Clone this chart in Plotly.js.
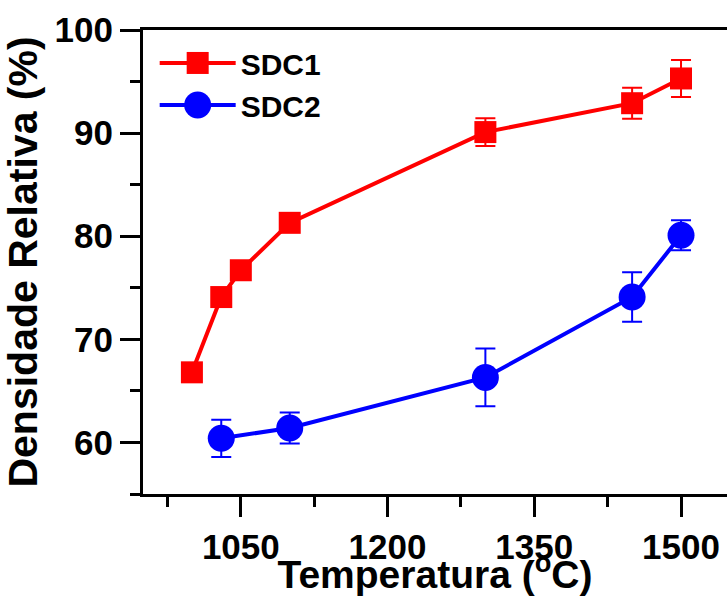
<!DOCTYPE html>
<html>
<head>
<meta charset="utf-8">
<script src="https://cdn.plot.ly/plotly-3.0.1.min.js"></script>
<style>
html,body{margin:0;padding:0;background:#fff;overflow:hidden;}
#chart{width:727px;height:596px;}
</style>
</head>
<body>
<div id="chart"></div>
<script>
// Data
const tempSDC1 = [1000, 1030, 1050, 1100, 1300, 1450, 1500];
const densSDC1 = [66.8, 74.1, 76.7, 81.3, 90.1, 92.9, 95.3];
const errSDC1  = [0.5, 0.5, 0.5, 0.5, 1.35, 1.5, 1.8];

const tempSDC2 = [1030, 1100, 1300, 1450, 1500];
const densSDC2 = [60.4, 61.4, 66.3, 74.1, 80.1];
const errSDC2  = [1.8, 1.5, 2.8, 2.4, 1.45];

const xTickVals = [1050, 1200, 1350, 1500];
const yTickVals = [60, 70, 80, 90, 100];

const FONT = 'Liberation Sans, Arial, sans-serif';
const RED = '#ff0000', BLUE = '#0000ff';

const traces = [
  {
    x: tempSDC1, y: densSDC1, name: 'SDC1', type: 'scatter', mode: 'lines+markers',
    line: {color: RED, width: 4},
    marker: {symbol: 'square', size: 22, color: RED},
    error_y: {type: 'data', array: errSDC1, visible: true, color: RED, thickness: 2, width: 10}
  },
  {
    x: tempSDC2, y: densSDC2, name: 'SDC2', type: 'scatter', mode: 'lines+markers',
    line: {color: BLUE, width: 4},
    marker: {symbol: 'circle', size: 27, color: BLUE},
    error_y: {type: 'data', array: errSDC2, visible: true, color: BLUE, thickness: 2, width: 10}
  }
];

const layout = {
  width: 727, height: 596,
  margin: {l: 143, r: 0, t: 30, b: 102, pad: 0},
  paper_bgcolor: '#fff', plot_bgcolor: '#fff',
  font: {family: FONT, color: '#000'},
  showlegend: true,
  legend: {
    x: 0.02, y: 0.985, xanchor: 'left', yanchor: 'top',
    bgcolor: 'rgba(0,0,0,0)', borderwidth: 0,
    font: {family: FONT, size: 30, color: '#000', weight: 'bold'},
    itemwidth: 76, tracegroupgap: 0
  },
  xaxis: {
    range: [950, 1547],
    tickmode: 'array', tickvals: xTickVals, ticktext: xTickVals.map(String),
    ticks: 'outside', ticklen: 20, tickwidth: 3, tickcolor: '#000',
    minor: {dtick: 75, tick0: 975, ticks: 'outside', ticklen: 10, tickwidth: 3, tickcolor: '#000'},
    showline: true, linewidth: 3, linecolor: '#000', mirror: true,
    showgrid: false, zeroline: false,
    tickfont: {family: FONT, size: 35, color: '#000', weight: 'bold'},
    title: {text: 'Temperatura (<sup>o</sup>C)', font: {family: FONT, size: 39, color: '#000', weight: 'bold'}, standoff: 0}
  },
  yaxis: {
    range: [55, 100],
    tickmode: 'array', tickvals: yTickVals, ticktext: yTickVals.map(String),
    ticks: 'outside', ticklen: 20, tickwidth: 3, tickcolor: '#000',
    minor: {dtick: 5, tick0: 55, ticks: 'outside', ticklen: 10, tickwidth: 3, tickcolor: '#000'},
    showline: true, linewidth: 3, linecolor: '#000', mirror: false,
    showgrid: false, zeroline: false,
    tickfont: {family: FONT, size: 35, color: '#000', weight: 'bold'},
    title: {text: 'Densidade Relativa (%)', font: {family: FONT, size: 41, color: '#000', weight: 'bold'}, standoff: 6}
  }
};

Plotly.newPlot('chart', traces, layout, {displayModeBar: false, staticPlot: true}).then(function (gd) {
  // Enlarge legend symbols to match the reference (Plotly caps legend marker size)
  const plotBox = gd._fullLayout._size;
  const pts = gd.querySelectorAll('.legend .traces .legendpoints');
  const shapes = [];
  const specs = [{type: 'rect', half: 11, color: RED}, {type: 'circle', half: 13.5, color: BLUE}];
  const rootBox = gd.getBoundingClientRect();
  pts.forEach(function (node, i) {
    const pt = node.querySelector('path.scatterpts');
    if (!pt || !specs[i]) return;
    const b = pt.getBoundingClientRect();
    const cx = b.left + b.width / 2 - rootBox.left;
    const cy = b.top + b.height / 2 - rootBox.top;
    const px = (cx - plotBox.l) / plotBox.w;
    const py = 1 - (cy - plotBox.t) / plotBox.h;
    const s = specs[i];
    shapes.push({
      type: s.type, xref: 'paper', yref: 'paper', layer: 'above',
      xsizemode: 'pixel', ysizemode: 'pixel', xanchor: px, yanchor: py,
      x0: -s.half, x1: s.half, y0: -s.half, y1: s.half,
      fillcolor: s.color, line: {width: 0}
    });
  });
  if (shapes.length) Plotly.relayout(gd, {shapes: shapes});
});
</script>
</body>
</html>
